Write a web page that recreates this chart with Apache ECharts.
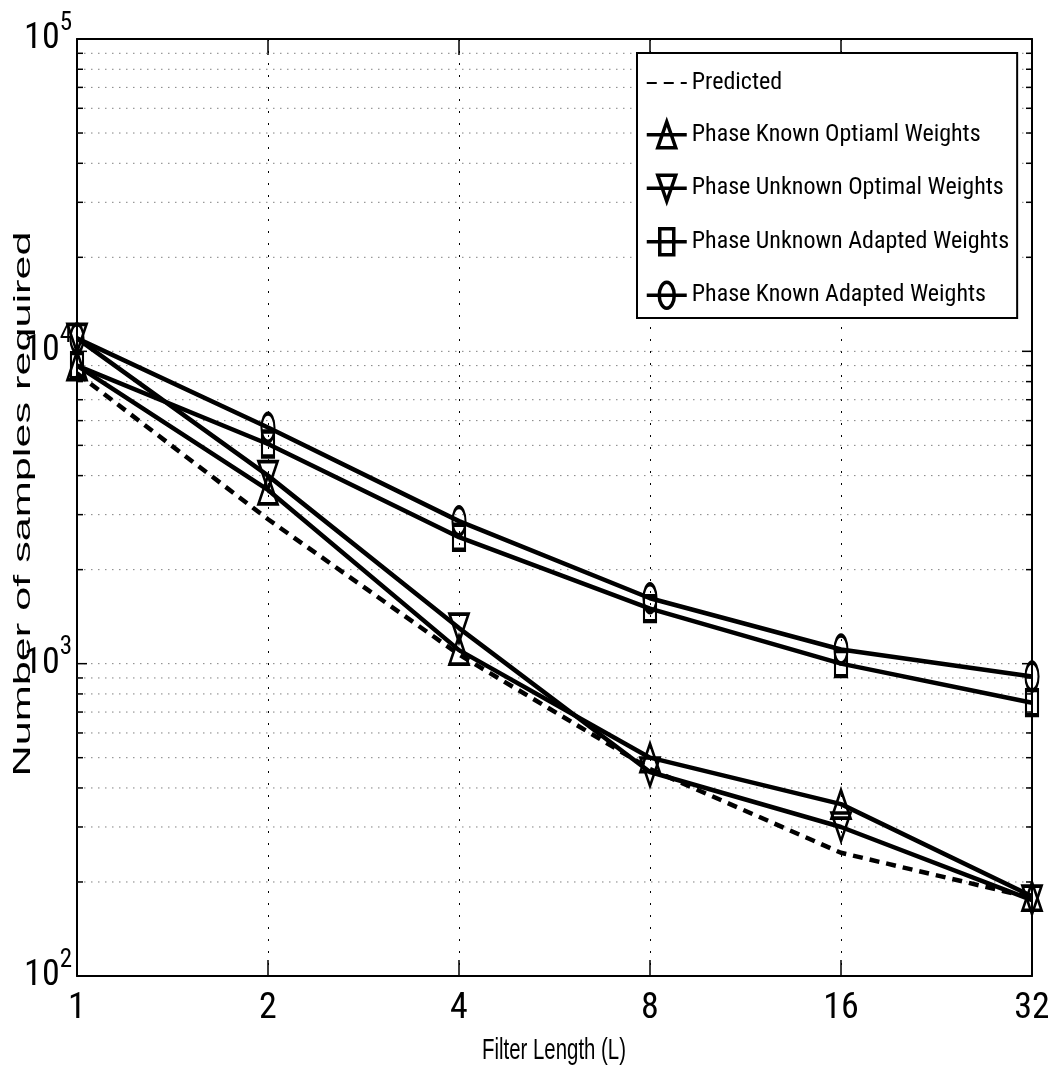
<!DOCTYPE html>
<html>
<head>
<meta charset="utf-8">
<script src="https://cdn.jsdelivr.net/npm/echarts@6/dist/echarts.min.js"></script>
<style>
  html, body { margin: 0; padding: 0; background: #fff; }
  #chart { width: 1048px; height: 1080px; }
</style>
</head>
<body>
<div id="chart"></div>
<script>
// Filter lengths (x, log2 scale)
const filterLengths = [1, 2, 4, 8, 16, 32];

// Number of samples required for each method
const predicted      = [8500, 2900, 1070, 460, 248, 178];
const knownOptimal   = [9000, 3600, 1105, 500, 355, 180];
const unknownOptimal = [11000, 4000, 1300, 450, 300, 175];
const unknownAdapted = [9000, 5050, 2540, 1500, 1000, 750];
const knownAdapted   = [11000, 5700, 2860, 1620, 1110, 910];

const seriesNames = [
  'Predicted',
  'Phase Known Optiaml Weights',
  'Phase Unknown Optimal Weights',
  'Phase Unknown Adapted Weights',
  'Phase Known Adapted Weights'
];

// Y tick positions (decades and in-between minor ticks)
const yMajorTicks = [100, 1000, 10000, 100000];
const yMinorTicks = [200, 300, 400, 500, 600, 700, 800, 900,
                     2000, 3000, 4000, 5000, 6000, 7000, 8000, 9000,
                     20000, 30000, 40000, 50000, 60000, 70000, 80000, 90000];

const NARROW = '"Liberation Sans Narrow", "Arial Narrow", "Roboto Condensed", "DejaVu Sans Condensed", sans-serif';

const pairs = ys => filterLengths.map((x, i) => [x, ys[i]]);

// legend icons: line with a hollow marker on top
const ICON_UP     = 'path://M0 13L40 13M20 0L29 26L11 26Z';
const ICON_DOWN   = 'path://M0 13L40 13M20 26L29 0L11 0Z';
const ICON_SQUARE = 'path://M0 13L40 13M13 0L27 0L27 26L13 26Z';
const ICON_CIRCLE = 'path://M0 13L40 13M12.5 13A7.5 13 0 1 1 27.5 13A7.5 13 0 1 1 12.5 13Z';
const iconStyle = { color: 'transparent', borderColor: '#000', borderWidth: 3.5 };

const markerStyle = { color: 'transparent', borderColor: '#000', borderWidth: 3 };
const lineStyle = { color: '#000', width: 4.5 };

function dataLine(name, values, symbol, size, rotate) {
  return {
    name, type: 'line', data: pairs(values),
    symbol, symbolSize: size, symbolRotate: rotate || 0,
    showSymbol: true, lineStyle, itemStyle: markerStyle,
    emphasis: { disabled: true }, z: 5
  };
}

// gridline rows for the log y axis: [x, value, isMajor]
const gridRows = yMajorTicks.slice(1, -1).map(v => [1, v, 1])
  .concat(yMinorTicks.map(v => [1, v, 0]));

const chart = echarts.init(document.getElementById('chart'));

chart.setOption({
  animation: false,
  backgroundColor: '#fff',
  grid: { left: 77, right: 16, top: 39, bottom: 104, show: false,
          containLabel: false, outerBoundsMode: 'none' },
  xAxis: [{
    type: 'log', logBase: 2, min: 1, max: 32,
    axisLine: { show: true, lineStyle: { color: '#000', width: 2 } },
    axisTick: { show: true, inside: true, length: 16, lineStyle: { color: '#000', width: 1.5 } },
    axisLabel: {
      color: '#000', fontFamily: NARROW, fontSize: 36, margin: 15,
      formatter: v => String(Math.round(v))
    },
    splitLine: { show: true, lineStyle: { color: '#000', width: 1, type: [2, 10] } }
  }, {
    type: 'log', logBase: 2, min: 1, max: 32, position: 'top',
    axisLine: { show: true, lineStyle: { color: '#000', width: 2 } },
    axisTick: { show: true, inside: true, length: 16, lineStyle: { color: '#000', width: 1.5 } },
    axisLabel: { show: false }, splitLine: { show: false }
  }],
  yAxis: [{
    type: 'log', logBase: 10, min: 100, max: 100000,
    axisLine: { show: true, lineStyle: { color: '#000', width: 2 } },
    axisTick: { show: false },
    splitLine: { show: false },
    axisLabel: {
      margin: 5, color: '#000',
      formatter: v => '{b|10}{s|' + Math.round(Math.log10(v)) + '}',
      rich: {
        b: { fontFamily: NARROW, fontSize: 36, lineHeight: 56, color: '#000' },
        s: { fontFamily: NARROW, fontSize: 25, lineHeight: 26, verticalAlign: 'top', color: '#000' }
      }
    }
  }, {
    type: 'log', logBase: 10, min: 100, max: 100000, position: 'right',
    axisLine: { show: true, lineStyle: { color: '#000', width: 2 } },
    axisTick: { show: false }, axisLabel: { show: false }, splitLine: { show: false }
  }],
  legend: {
    orient: 'vertical', left: 637, top: 53,
    padding: [17, 8, 8, 8],
    itemWidth: 40, itemHeight: 26, itemGap: 24,
    backgroundColor: '#fff', borderColor: '#000', borderWidth: 2,
    symbolKeepAspect: false,
    selectedMode: false,
    textStyle: { color: '#000', fontFamily: NARROW, fontSize: 24, lineHeight: 26 },
    data: [
      { name: seriesNames[0], itemStyle: { color: 'transparent', borderWidth: 0 } },
      { name: seriesNames[1], icon: ICON_UP, itemStyle: iconStyle },
      { name: seriesNames[2], icon: ICON_DOWN, itemStyle: iconStyle },
      { name: seriesNames[3], icon: ICON_SQUARE, itemStyle: iconStyle },
      { name: seriesNames[4], icon: ICON_CIRCLE, itemStyle: iconStyle }
    ]
  },
  graphic: [{
    // y axis title, drawn stretched along its length
    type: 'text', x: 23, y: 504, rotation: Math.PI / 2, scaleX: 1.8,
    style: {
      text: 'Number of samples required',
      font: '24px "Liberation Sans", Arial, sans-serif',
      fill: '#000', align: 'center', verticalAlign: 'middle'
    }
  }, {
    // x axis title, drawn condensed
    type: 'text', x: 554, y: 1051, scaleX: 0.68,
    style: {
      text: 'Filter Length (L)',
      font: '30px "Liberation Sans", Arial, sans-serif',
      fill: '#000', align: 'center', verticalAlign: 'middle'
    }
  }],
  series: [
    {
      name: 'yGrid', type: 'custom', coordinateSystem: 'cartesian2d',
      data: gridRows, encode: { x: 0, y: 1 }, silent: true, z: 1,
      renderItem: (params, api) => {
        const v = api.value(1);
        const left = api.coord([1, v]);
        const right = api.coord([32, v]);
        const t = api.value(2) ? 10 : 6;
        return {
          type: 'group', children: [
            { type: 'line', shape: { x1: left[0], y1: left[1], x2: right[0], y2: right[1] },
              style: { stroke: '#808080', lineWidth: 1, lineDash: [1.5, 5.5] } },
            { type: 'line', shape: { x1: left[0], y1: left[1], x2: left[0] + t, y2: left[1] },
              style: { stroke: '#000', lineWidth: 1.5 } },
            { type: 'line', shape: { x1: right[0] - t, y1: right[1], x2: right[0], y2: right[1] },
              style: { stroke: '#000', lineWidth: 1.5 } }
          ]
        };
      }
    },
    {
      name: seriesNames[0], type: 'line', data: pairs(predicted),
      symbol: 'none', itemStyle: { color: 'transparent', borderWidth: 0 },
      lineStyle: { color: '#000', width: 4.5, type: [10, 7] },
      emphasis: { disabled: true }, z: 4
    },
    dataLine(seriesNames[1], knownOptimal, 'triangle', [19, 28]),
    dataLine(seriesNames[2], unknownOptimal, 'triangle', [19, 28], 180),
    dataLine(seriesNames[3], unknownAdapted, 'rect', [12, 25]),
    dataLine(seriesNames[4], knownAdapted, 'circle', [13, 28])
  ]
});
</script>
</body>
</html>
